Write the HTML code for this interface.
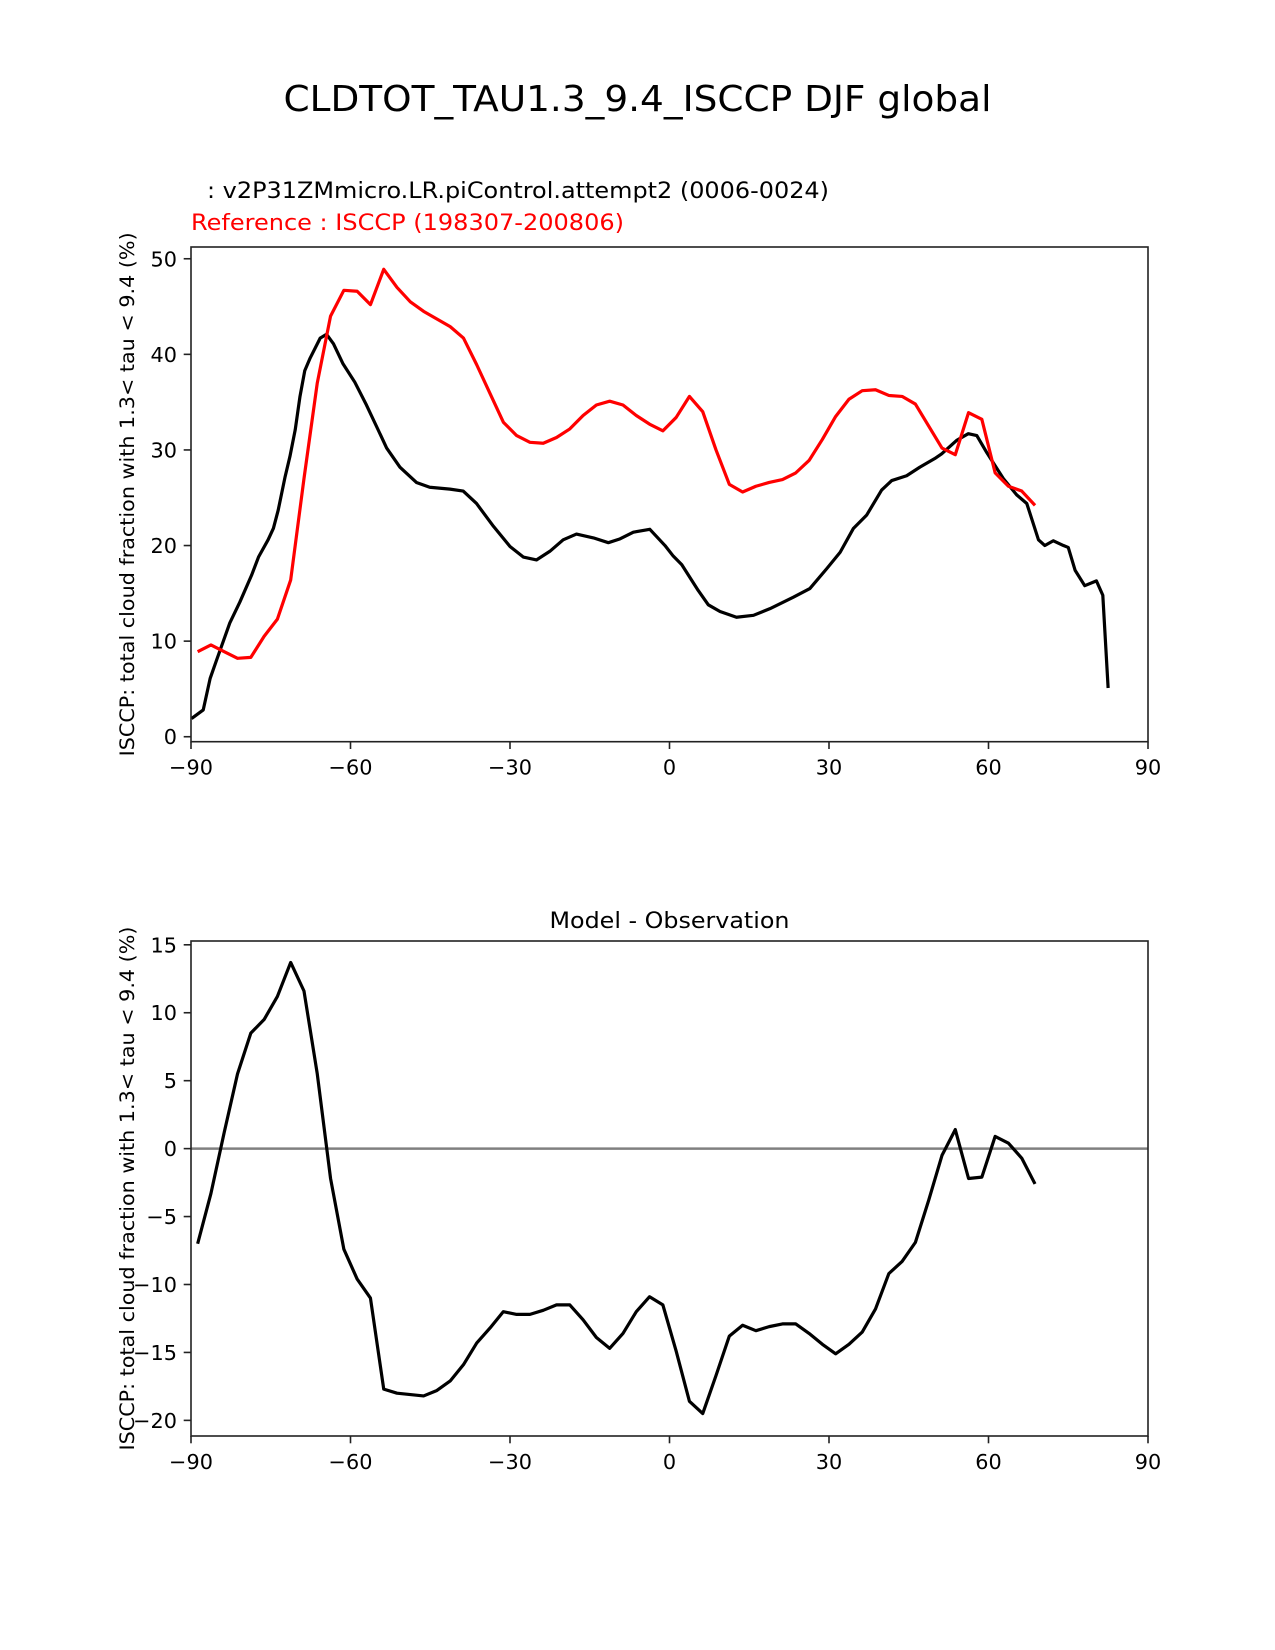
<!DOCTYPE html>
<html><head><meta charset="utf-8"><style>html,body{margin:0;padding:0;background:#fff}svg{display:block}text{font-family:"DejaVu Sans","Liberation Sans",sans-serif}</style></head>
<body>
<svg id="fig" width="1275" height="1650" viewBox="0 0 1275 1650" xmlns="http://www.w3.org/2000/svg">
<rect width="1275" height="1650" fill="#fff"/>
<text x="637.5" y="111" font-size="36" text-anchor="middle" textLength="708" lengthAdjust="spacingAndGlyphs">CLDTOT_TAU1.3_9.4_ISCCP DJF global</text>
<text x="207" y="198" font-size="22" textLength="622" lengthAdjust="spacingAndGlyphs">: v2P31ZMmicro.LR.piControl.attempt2 (0006-0024)</text>
<text x="191" y="230" font-size="22" fill="#ff0000" textLength="433" lengthAdjust="spacingAndGlyphs">Reference : ISCCP (198307-200806)</text>
<text x="669.5" y="928" font-size="22" text-anchor="middle" textLength="240" lengthAdjust="spacingAndGlyphs">Model - Observation</text>
<g id="top"></g>
<g id="bot"></g>
</svg>
<script>
const refLats = [-88.75,-86.25,-83.75,-81.25,-78.75,-76.25,-73.75,-71.25,-68.75,-66.25,-63.75,-61.25,-58.75,-56.25,-53.75,-51.25,-48.75,-46.25,-43.75,-41.25,-38.75,-36.25,-33.75,-31.25,-28.75,-26.25,-23.75,-21.25,-18.75,-16.25,-13.75,-11.25,-8.75,-6.25,-3.75,-1.25,1.25,3.75,6.25,8.75,11.25,13.75,16.25,18.75,21.25,23.75,26.25,28.75,31.25,33.75,36.25,38.75,41.25,43.75,46.25,48.75,51.25,53.75,56.25,58.75,61.25,63.75,66.25,68.75];
const refValues = [8.9,9.6,8.9,8.2,8.3,10.5,12.3,16.4,27,37,44.0,46.7,46.6,45.2,48.9,47.0,45.5,44.5,43.7,42.9,41.7,38.9,35.9,32.9,31.5,30.8,30.7,31.3,32.2,33.6,34.7,35.1,34.7,33.6,32.7,32.0,33.4,35.6,34.0,30.0,26.4,25.6,26.2,26.6,26.9,27.6,28.9,31.1,33.5,35.3,36.2,36.3,35.7,35.6,34.8,32.5,30.2,29.5,33.9,33.2,27.6,26.2,25.7,24.2];
const modelLats = [-89.9,-87.7,-86.4,-85.2,-82.7,-80.8,-78.6,-77.3,-75.5,-74.5,-73.6,-72.3,-71.4,-70.4,-69.5,-68.6,-67.6,-65.7,-64.5,-63.2,-61.4,-59.2,-57.0,-54.8,-53.2,-50.7,-47.6,-45.1,-41.3,-38.8,-36.3,-33.1,-30.0,-27.5,-25.0,-22.5,-20.0,-17.5,-14.3,-11.5,-9.3,-6.8,-3.7,-0.85,0.7,2.3,5.4,7.3,9.5,12.6,15.8,18.9,23.3,26.4,29.6,32.1,34.6,37.1,39.9,41.8,44.6,47.1,49.9,51.2,54.0,56.2,57.8,59.7,62.8,65.3,67.2,69.4,70.6,72.2,74.1,75.0,76.3,78.1,80.3,81.5,82.5];
const modelValues = [1.9,2.8,6.1,8.0,11.9,14.1,16.9,18.8,20.6,21.8,23.7,27.2,29.3,32.1,35.6,38.3,39.6,41.7,42.1,41.1,39.0,37.1,34.7,32.1,30.2,28.2,26.6,26.1,25.9,25.7,24.4,22.0,19.9,18.8,18.5,19.4,20.6,21.2,20.8,20.3,20.7,21.4,21.7,20.0,18.9,18.0,15.3,13.8,13.1,12.5,12.7,13.4,14.6,15.5,17.6,19.3,21.8,23.2,25.8,26.8,27.3,28.2,29.1,29.6,31.0,31.7,31.5,29.7,27.0,25.3,24.4,20.6,20.0,20.5,20.0,19.8,17.4,15.8,16.3,14.8,5.1];
const diffValues = [-7.0,-3.3,1.2,5.5,8.5,9.5,11.2,13.7,11.6,5.5,-2.2,-7.4,-9.6,-11.0,-17.7,-18.0,-18.1,-18.2,-17.8,-17.1,-15.9,-14.3,-13.2,-12.0,-12.2,-12.2,-11.9,-11.5,-11.5,-12.6,-13.9,-14.7,-13.6,-12.0,-10.9,-11.5,-14.9,-18.6,-19.5,-16.7,-13.8,-13.0,-13.4,-13.1,-12.9,-12.9,-13.6,-14.4,-15.1,-14.4,-13.5,-11.8,-9.2,-8.3,-6.9,-3.8,-0.5,1.4,-2.2,-2.1,0.9,0.4,-0.7,-2.6];
const xTicks = [-90,-60,-30,0,30,60,90];
const xTickLabels = ["\u221290","\u221260","\u221230","0","30","60","90"];
const topYTicks = [0,10,20,30,40,50];
const topYTickLabels = ["0","10","20","30","40","50"];
const botYTicks = [-20,-15,-10,-5,0,5,10,15];
const botYTickLabels = ["\u221220","\u221215","\u221210","\u22125","0","5","10","15"];

const NS = "http://www.w3.org/2000/svg";
const L = 191, R = 1148;
function mk(parent, tag, attrs){const e=document.createElementNS(NS,tag);for(const k in attrs)e.setAttribute(k,attrs[k]);parent.appendChild(e);return e;}

function axes(g, top, bottom, ymin, ymax, yTicks, yLabels, prefix){
  const xs = v => L + (v + 90) / 180 * (R - L);
  const ys = v => bottom - (v - ymin) / (ymax - ymin) * (bottom - top);
  xTicks.forEach((t,i)=>{
    const x = xs(t);
    const tk = mk(g,'line',{x1:x,x2:x,y1:bottom,y2:bottom+7.3,stroke:'#222','stroke-width':1.6});
    
    
    const lb = mk(g,'text',{x:x,y:bottom+33,'font-size':20.8,'text-anchor':'middle'});
    lb.textContent = xTickLabels[i];
    
    
  });
  yTicks.forEach((t,i)=>{
    const y = ys(t);
    const tk = mk(g,'line',{x1:L-7.3,x2:L,y1:y,y2:y,stroke:'#222','stroke-width':1.6});
    
    
    const lb = mk(g,'text',{x:L-14,y:y+7.5,'font-size':20.8,'text-anchor':'end'});
    lb.textContent = yLabels[i];
    
    
  });
  const yl = mk(g,'text',{transform:`translate(134,${(top+bottom)/2}) rotate(-90)`,'font-size':19.5,'text-anchor':'middle',textLength:524,lengthAdjust:'spacingAndGlyphs'});
  yl.textContent = "ISCCP: total cloud fraction with 1.3< tau < 9.4 (%)";
  
  
  return {xs, ys};
}
function line(g, lats, vals, sc, color, name){
  const d = lats.map((la,i)=>(i?'L':'M')+sc.xs(la).toFixed(2)+','+sc.ys(vals[i]).toFixed(2)).join(' ');
  const p = mk(g,'path',{d:d,fill:'none',stroke:color,'stroke-width':3.2,'stroke-linejoin':'round'});
  
  
}
function frame(g, top, bottom, name){
  const r = mk(g,'rect',{x:L,y:top,width:R-L,height:bottom-top,fill:'none',stroke:'#222','stroke-width':1.6});
  
  
}
const gt = document.getElementById('top');
const st = axes(gt, 247, 741.7, -0.52, 51.23, topYTicks, topYTickLabels, 'top');
line(gt, modelLats, modelValues, st, '#000', 'model-line');
line(gt, refLats, refValues, st, '#ff0000', 'reference-line');
frame(gt, 247, 741.7, 'top-plot-frame');
const gb = document.getElementById('bot');
const sb = axes(gb, 941, 1436, -21.15, 15.28, botYTicks, botYTickLabels, 'diff');
const z = mk(gb,'line',{x1:L,x2:R,y1:sb.ys(0),y2:sb.ys(0),stroke:'#808080','stroke-width':2.4});


line(gb, refLats, diffValues, sb, '#000', 'difference-line');
frame(gb, 941, 1436, 'difference-plot-frame');
</script>
</body></html>
